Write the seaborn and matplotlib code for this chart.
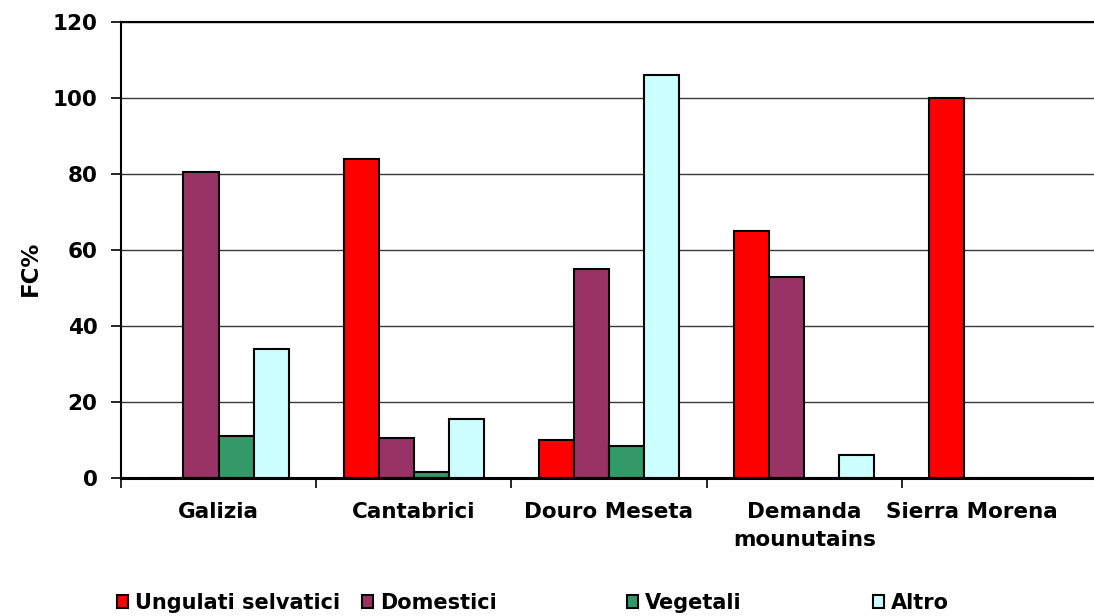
import matplotlib
matplotlib.use("Agg")
import matplotlib.pyplot as plt
import matplotlib.transforms as mtransforms
import seaborn as sns
import pandas as pd
from matplotlib.ticker import FixedLocator

# Regions and diet categories
regioni = ["Galizia", "Cantabrici", "Douro Meseta", "Demanda\nmounutains", "Sierra Morena"]
categorie = ["Ungulati selvatici", "Domestici", "Vegetali", "Altro"]

# Frequency of occurrence (FC%) per category, one value per region
ungulati_selvatici = [0, 84, 10, 65, 100]
domestici = [80.5, 10.5, 55, 53, 0]
vegetali = [11, 1.5, 8.5, 0, 0]
altro = [34, 15.5, 106, 6, 0]

colori = ["#FF0000", "#993366", "#339966", "#CCFFFF"]
y_ticks = [0, 20, 40, 60, 80, 100, 120]

serie = [ungulati_selvatici, domestici, vegetali, altro]
rows = []
for cat, vals in zip(categorie, serie):
    for reg, v in zip(regioni, vals):
        rows.append({"Regione": reg, "Categoria": cat, "FC": v})
df = pd.DataFrame(rows)

sns.set_style("white")
plt.rcParams["font.family"] = ["DejaVu Sans"]
plt.rcParams["font.weight"] = "bold"
plt.rcParams["text.color"] = "black"
plt.rcParams["xtick.color"] = "black"
plt.rcParams["ytick.color"] = "black"

W, H = 1094, 616
fig = plt.figure(figsize=(W / 100, H / 100), dpi=100)
ax = fig.add_axes([121 / W, 1 - 478 / H, (1097 - 121) / W, 456 / H])

sns.barplot(data=df, x="Regione", y="FC", hue="Categoria", order=regioni,
            hue_order=categorie, palette=colori, saturation=1, width=0.72,
            edgecolor="black", linewidth=1.5, ax=ax)

ax.set_ylim(0, 120)
ax.set_xlim(-0.5, len(regioni) - 0.5)
ax.yaxis.set_major_locator(FixedLocator(y_ticks))
ax.grid(axis="y", color="#383838", linewidth=1.0)
ax.set_axisbelow(True)

for side in ["left", "bottom", "top"]:
    ax.spines[side].set_visible(True)
    ax.spines[side].set_color("black")
ax.spines["left"].set_linewidth(1.5)
ax.spines["bottom"].set_linewidth(2.2)
ax.spines["top"].set_linewidth(1.5)
ax.spines["right"].set_visible(False)

# Category ticks sit between the groups
ax.set_xticks(range(len(regioni)))
ax.set_xticklabels(regioni, fontsize=15.5, fontweight="bold", linespacing=1.5,
                   color="black")
ax.xaxis.set_minor_locator(FixedLocator([i - 0.5 for i in range(len(regioni))]))
ax.tick_params(axis="x", which="both", bottom=True)
ax.tick_params(axis="x", which="major", length=0, pad=17)
ax.tick_params(axis="x", which="minor", length=7, width=1.2, color="black", direction="out")
ax.tick_params(axis="y", left=True, length=7, width=1.2, color="black", direction="out",
               labelsize=15.5, pad=10, labelcolor="black")
for lab in ax.get_yticklabels():
    lab.set_fontweight("bold")

# Pull the last category label slightly inward from the figure edge
last = ax.get_xticklabels()[-1]
last.set_transform(last.get_transform() +
                   mtransforms.ScaledTranslation(-0.28, 0, fig.dpi_scale_trans))

ax.set_xlabel("")
ax.set_ylabel("")
fig.text(30 / W, 1 - 268 / H, "FC%", rotation=90, ha="center", va="center",
         fontsize=16.5, fontweight="bold", color="black")

# Legend entries laid out in equal-width cells along the bottom
handles, labels = ax.get_legend_handles_labels()
ax.get_legend().remove()
legend_x = [117, 362, 627, 873]
for h, lab, x in zip(handles, labels, legend_x):
    lg = fig.legend([h], [lab], loc="center left", bbox_to_anchor=(x / W, 1 - 603 / H),
                    frameon=False, handlelength=0.55, handleheight=0.55,
                    handletextpad=0.3, borderaxespad=0, borderpad=0,
                    prop={"weight": "bold", "size": 15})
    for t in lg.get_texts():
        t.set_color("black")

fig.savefig("out.png", dpi=100, facecolor="white")
